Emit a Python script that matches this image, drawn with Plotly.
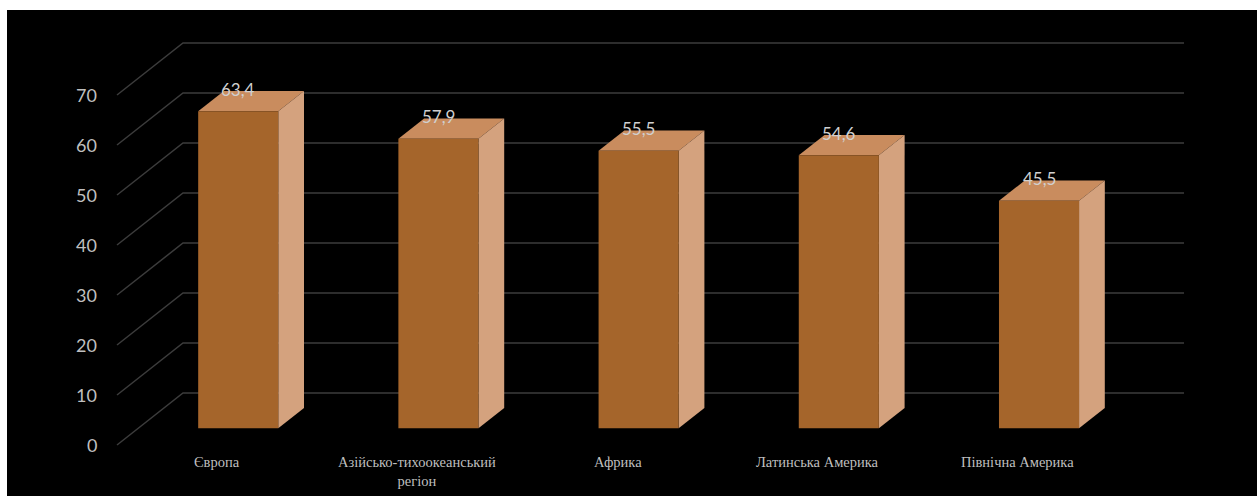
import plotly.graph_objects as go

# Data
categories = ["Європа", "Азійсько-тихоокеанський<br>регіон", "Африка",
              "Латинська Америка", "Північна Америка"]
values = [63.4, 57.9, 55.5, 54.6, 45.5]
value_labels = ["63,4", "57,9", "55,5", "54,6", "45,5"]
y_ticks = [0, 10, 20, 30, 40, 50, 60, 70]

# Page geometry (pixels)
W, H = 1257, 496
WALL_X0 = 183          # left edge of the back wall
SLOT_PX = 200.2        # width of one category slot
ZERO_Y = 393           # back-wall baseline
PX_PER_UNIT = 5.0      # vertical pixels per value unit

# Oblique projection: moving from back (d=0) to front (d=1)
DEPTH_DX_PX, DEPTH_DY_PX = -66, 52
DX = DEPTH_DX_PX / SLOT_PX          # in slot units
DY = -DEPTH_DY_PX / PX_PER_UNIT     # in value units

D_BACK, D_FRONT = 0.29, 0.68        # bar depth span
HALF_W = 0.2                        # half bar width in slots

x_range = [-WALL_X0 / SLOT_PX, (W - WALL_X0) / SLOT_PX]
y_range = [(ZERO_Y - H) / PX_PER_UNIT, ZERO_Y / PX_PER_UNIT]

FRONT = "#A5652B"
TOP = "#C98C5E"
SIDE = "#D4A27E"
GRID = "#3c3c3c"
TXT = "#bfbfbf"


def proj(x, y, d):
    return x + DX * d, y + DY * d


fig = go.Figure()

# Gridlines: back wall + receding left wall edge
n = len(categories)
for v in y_ticks:
    xa, ya = proj(0, v, 1)
    fig.add_trace(go.Scatter(x=[xa, 0, n], y=[ya, v, v], mode="lines",
                             line=dict(color=GRID, width=1.5),
                             hoverinfo="skip", showlegend=False))
    fig.add_annotation(x=xa - 0.09, y=ya, text=str(v), showarrow=False,
                       xanchor="right", yanchor="middle",
                       font=dict(family="Lato, Open Sans, sans-serif",
                                 size=18, color=TXT))

# Bars as three visible faces
for i, v in enumerate(values):
    c = i + 0.5
    l, r = c - HALF_W, c + HALF_W

    def pts(corners):
        xs, ys = zip(*[proj(x, y, d) for x, y, d in corners])
        return list(xs) + [xs[0]], list(ys) + [ys[0]]

    # top face
    xs, ys = pts([(l, v, D_FRONT), (r, v, D_FRONT), (r, v, D_BACK), (l, v, D_BACK)])
    fig.add_trace(go.Scatter(x=xs, y=ys, fill="toself", fillcolor=TOP, mode="lines",
                             line=dict(width=0, color=TOP), hoverinfo="skip",
                             showlegend=False))
    # side face
    xs, ys = pts([(r, 0, D_FRONT), (r, 0, D_BACK), (r, v, D_BACK), (r, v, D_FRONT)])
    fig.add_trace(go.Scatter(x=xs, y=ys, fill="toself", fillcolor=SIDE, mode="lines",
                             line=dict(width=0, color=SIDE), hoverinfo="skip",
                             showlegend=False))
    # front face
    xs, ys = pts([(l, 0, D_FRONT), (r, 0, D_FRONT), (r, v, D_FRONT), (l, v, D_FRONT)])
    fig.add_trace(go.Scatter(x=xs, y=ys, fill="toself", fillcolor=FRONT, mode="lines",
                             line=dict(width=0, color=FRONT), hoverinfo="skip",
                             showlegend=False))

    # value label above the bar top
    lx, ly = proj(c, v, D_BACK)
    fig.add_annotation(x=lx + DX * (D_FRONT - D_BACK), y=ly + 0.4,
                       text=value_labels[i], showarrow=False,
                       xanchor="center", yanchor="middle",
                       font=dict(family="Lato, Open Sans, sans-serif",
                                 size=17, color="#d0d0d0"))

    # category label under the floor's front edge
    cx, cy = proj(c, 0, 1)
    fig.add_annotation(x=cx, y=cy - 1.4, text=categories[i], showarrow=False,
                       xanchor="center", yanchor="top",
                       font=dict(family="Liberation Serif, DejaVu Serif, serif",
                                 size=14.5, color=TXT))

# Black chart panel on the white page
fig.add_shape(type="rect", xref="paper", yref="paper",
              x0=7 / W, x1=1, y0=0, y1=1 - 10 / H,
              fillcolor="black", line=dict(width=0), layer="below")

fig.update_layout(
    width=W, height=H,
    margin=dict(l=0, r=0, t=0, b=0),
    paper_bgcolor="white", plot_bgcolor="rgba(0,0,0,0)",
    xaxis=dict(range=x_range, visible=False, fixedrange=True),
    yaxis=dict(range=y_range, visible=False, fixedrange=True),
    showlegend=False,
)

fig.write_html("out.html")
